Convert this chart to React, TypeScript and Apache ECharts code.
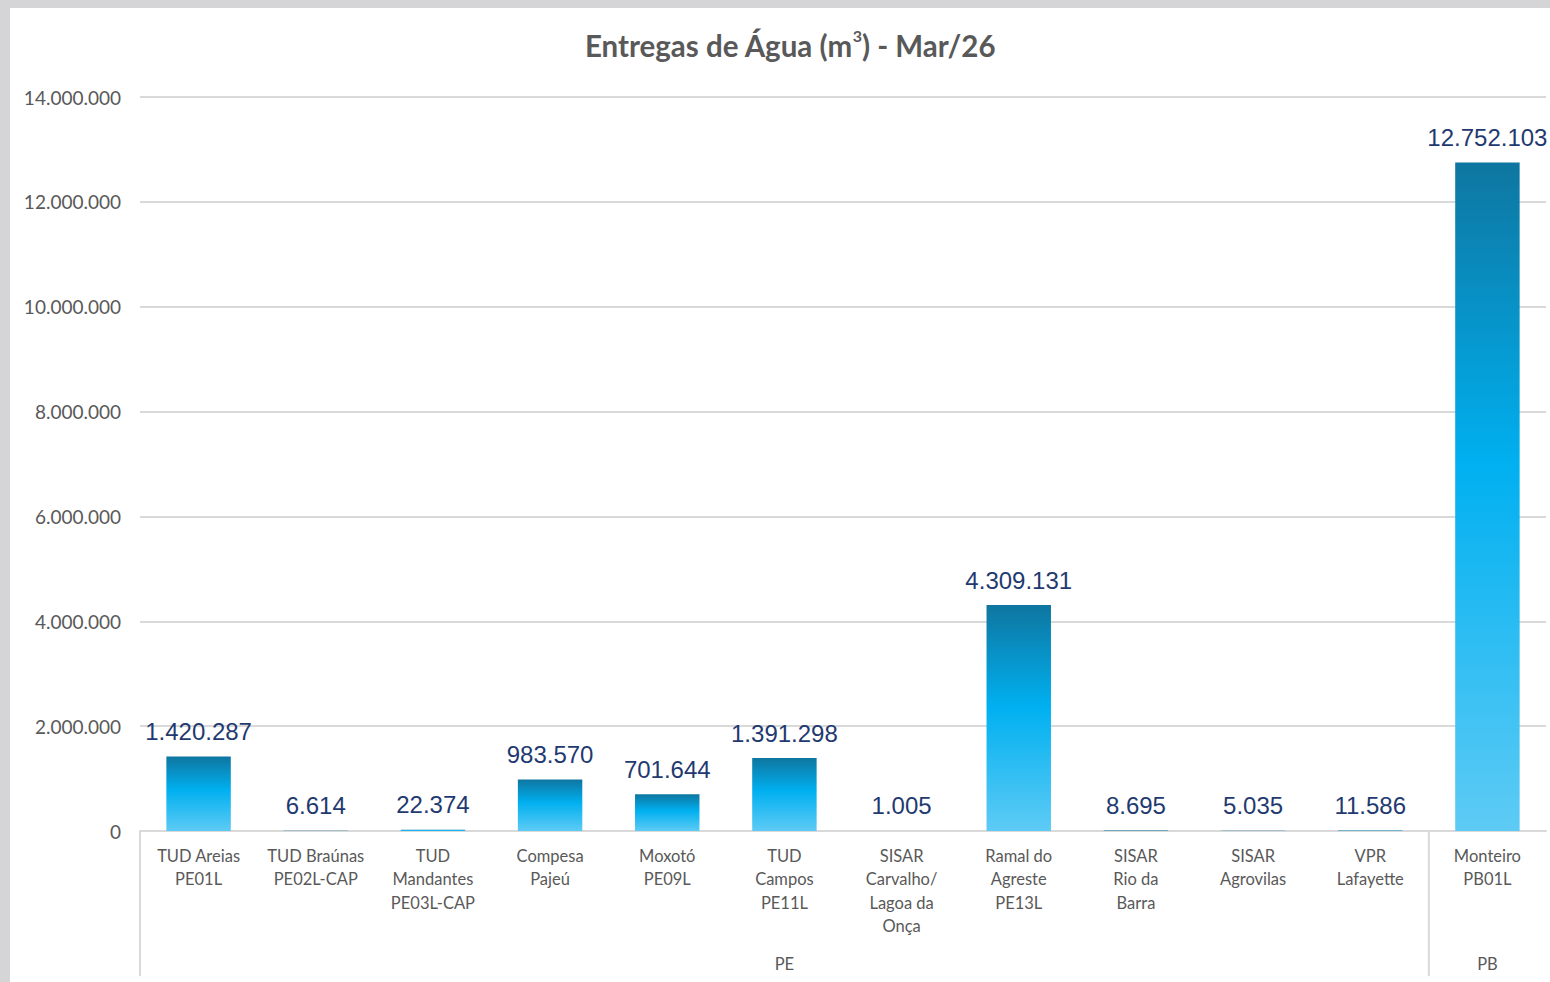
import React, { useEffect, useRef } from "react";
import * as echarts from "echarts";

const categories = [
  "TUD Areias\nPE01L",
  "TUD Braúnas\nPE02L-CAP",
  "TUD\nMandantes\nPE03L-CAP",
  "Compesa\nPajeú",
  "Moxotó\nPE09L",
  "TUD\nCampos\nPE11L",
  "SISAR\nCarvalho/\nLagoa da\nOnça",
  "Ramal do\nAgreste\nPE13L",
  "SISAR\nRio da\nBarra",
  "SISAR\nAgrovilas",
  "VPR\nLafayette",
  "Monteiro\nPB01L",
];
const values = [1420287, 6614, 22374, 983570, 701644, 1391298, 1005, 4309131, 8695, 5035, 11586, 12752103];
const groupNames = ["PE", "PB"];
const groupStart = [0, 11];
const groupEnd = [10, 11];
const yTicks = { min: 0, max: 14000000, interval: 2000000 };
const titleText = "Entregas de Água (m{sup|3}) - Mar/26";

const fmt = (v: number) => String(Math.round(v)).replace(/\B(?=(\d{3})+(?!\d))/g, ".");

export default function App() {
  const ref = useRef<HTMLDivElement>(null);
  useEffect(() => {
    if (!ref.current) return;
    const chart = echarts.init(ref.current, undefined, { renderer: "svg" });
    const gray = "#595959";
    const grid = "#d9d9d9";
    const groupData = groupNames.map((n, i) => [groupStart[i], 0, groupEnd[i]]);
    chart.setOption({
      animation: false,
      backgroundColor: "#ffffff",
      graphic: [
        {
          type: "text",
          x: 780,
          y: 37,
          style: {
            text: titleText,
            fill: gray,
            fontFamily: "Lato",
            fontWeight: "bold",
            fontSize: 29.5,
            align: "center",
            verticalAlign: "middle",
            rich: {
              sup: {
                fontSize: 16,
                fontWeight: "bold",
                fontFamily: "Lato",
                fill: gray,
                verticalAlign: "bottom",
                padding: [0, 0, 20, 0],
              },
            },
          },
        },
      ],
      grid: { left: 130, top: 89, right: 4, bottom: 151, containLabel: false },
      xAxis: {
        type: "category",
        data: categories,
        axisLine: { show: true, lineStyle: { color: grid, width: 2 } },
        axisTick: { show: false },
        axisLabel: {
          color: gray,
          fontFamily: "Lato",
          fontSize: 16.5,
          lineHeight: 23.5,
          margin: 13,
          interval: 0,
        },
      },
      yAxis: {
        type: "value",
        min: yTicks.min,
        max: yTicks.max,
        interval: yTicks.interval,
        axisLine: { show: false },
        axisTick: { show: false },
        splitLine: { lineStyle: { color: grid, width: 2 } },
        axisLabel: {
          color: gray,
          fontFamily: "Lato",
          fontSize: 19,
          margin: 19,
          formatter: (v: number) => fmt(v),
        },
      },
      series: [
        {
          type: "bar",
          data: values,
          barCategoryGap: "45%",
          itemStyle: {
            color: new echarts.graphic.LinearGradient(0, 0, 0, 1, [
              { offset: 0, color: "#0e76a0" },
              { offset: 0.45, color: "#00b0f0" },
              { offset: 1, color: "#5ecbf5" },
            ]),
          },
          label: {
            show: true,
            position: "top",
            distance: 13,
            color: "#1f3a70",
            fontFamily: "Liberation Sans",
            fontSize: 24,
            formatter: (p: any) => fmt(p.value),
          },
        },
        {
          type: "custom",
          silent: true,
          clip: false,
          dimensions: ["start", "y", "end"],
          encode: { x: 0, y: 1 },
          data: groupData,
          renderItem: (params: any, api: any) => {
            const s = api.value(0);
            const e = api.value(2);
            const bw = api.size([1, 0])[0];
            const p0 = api.coord([s, 0]);
            const p1 = api.coord([e, 0]);
            const xl = p0[0] - bw / 2;
            const y0 = p0[1];
            const cx = (p0[0] + p1[0]) / 2;
            return {
              type: "group",
              children: [
                {
                  type: "line",
                  shape: { x1: xl, y1: y0, x2: xl, y2: y0 + 145 },
                  style: { stroke: grid, lineWidth: 2 },
                },
                {
                  type: "text",
                  x: cx,
                  y: y0 + 133,
                  style: {
                    text: groupNames[params.dataIndex],
                    fill: gray,
                    fontFamily: "Lato",
                    fontSize: 16.5,
                    align: "center",
                    verticalAlign: "middle",
                  },
                },
              ],
            };
          },
        },
      ],
    });
    return () => chart.dispose();
  }, []);
  return (
    <div style={{ position: "fixed", left: 0, top: 0, width: 1550, height: 982, background: "#d5d5d8" }}>
      <div ref={ref} style={{ position: "absolute", left: 10, top: 8, width: 1540, height: 974 }} />
    </div>
  );
}
